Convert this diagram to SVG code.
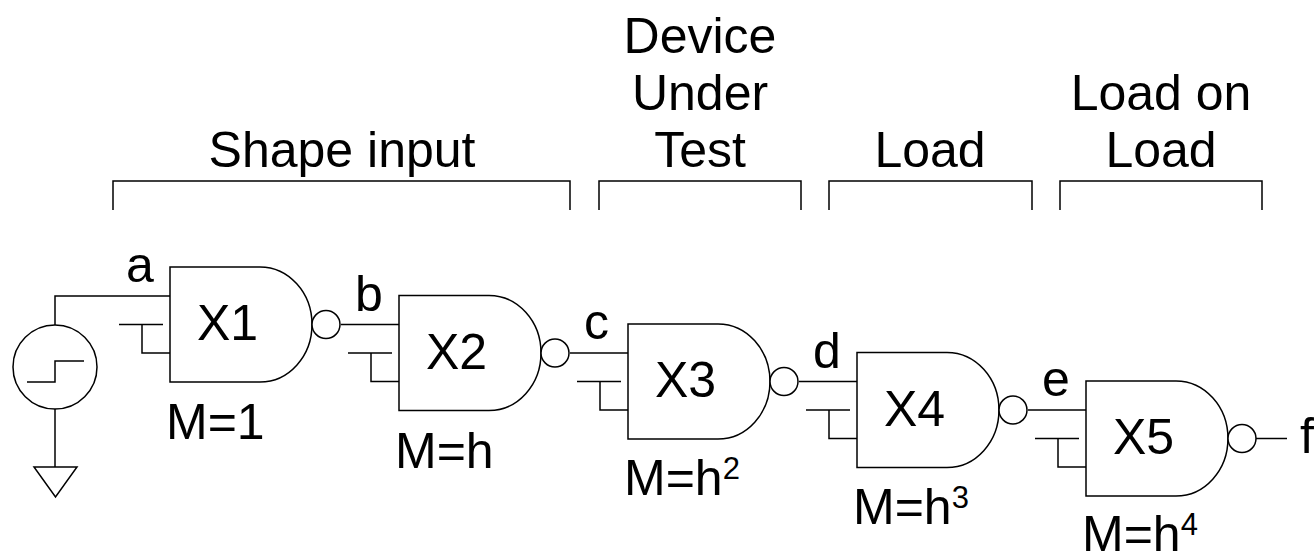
<svg xmlns="http://www.w3.org/2000/svg" width="1314" height="557" viewBox="0 0 1314 557">
<style>
.ln{fill:none;stroke:#000;stroke-width:1.5}
.sh{fill:#fff;stroke:#000;stroke-width:1.5}
text{font-family:"Liberation Sans",Arial,Helvetica,sans-serif;font-size:50px;fill:#000}
.mid{text-anchor:middle}
.sup{font-size:31px}
</style>
<rect width="1314" height="557" fill="#fff"/>
<g id="brackets">
<path class="ln" d="M113 210V181H570V210"/>
<path class="ln" d="M599 210V181H801V210"/>
<path class="ln" d="M829 210V181H1032V210"/>
<path class="ln" d="M1060 210V181H1262V210"/>
<text class="mid" x="342" y="167">Shape input</text>
<text class="mid" x="700" y="53">Device</text>
<text class="mid" x="700" y="110">Under</text>
<text class="mid" x="700" y="167">Test</text>
<text class="mid" x="930" y="167">Load</text>
<text class="mid" x="1161" y="110">Load on</text>
<text class="mid" x="1161" y="167">Load</text>
</g>
<g id="connectors">
<path class="ln" d="M55 325V296H170"/>
<path class="ln" d="M341 324.5H399"/>
<path class="ln" d="M570 353H628"/>
<path class="ln" d="M799 381.5H857"/>
<path class="ln" d="M1028 410H1086"/>
<path class="ln" d="M1256 438.5H1287"/>
<path class="ln" d="M55 409V467"/>
<text x="126" y="282">a</text>
<text x="355" y="310.5">b</text>
<text x="584" y="339">c</text>
<text x="813" y="367.5">d</text>
<text x="1042" y="396">e</text>
<text x="1300" y="453">f</text>
</g>
<g id="source">
<circle class="sh" cx="55" cy="367" r="42"/>
<path class="ln" d="M27 382H55V361H84"/>
</g>
<g id="ground">
<path class="ln" d="M34 467H77L55.5 497Z"/>
</g>
<g id="X1">
<path class="sh" d="M170 267H260A52 57.5 0 0 1 260 382H170Z"/>
<circle class="sh" cx="326" cy="324.5" r="14"/>
<path class="ln" d="M119 324.5H163M142 324.5V353H170"/>
<text x="197" y="340">X1</text>
<text x="166" y="439">M=1</text>
</g>
<g id="X2">
<path class="sh" d="M399 295.5H489A52 57.5 0 0 1 489 410.5H399Z"/>
<circle class="sh" cx="555" cy="353" r="14"/>
<path class="ln" d="M348 353H392M371 353V381.5H399"/>
<text x="426" y="368.5">X2</text>
<text x="395" y="467.5">M=h</text>
</g>
<g id="X3">
<path class="sh" d="M628 324H718A52 57.5 0 0 1 718 439H628Z"/>
<circle class="sh" cx="784" cy="381.5" r="14"/>
<path class="ln" d="M577 381.5H621M600 381.5V410H628"/>
<text x="655" y="397">X3</text>
<text x="624" y="495">M=h<tspan class="sup" dy="-16">2</tspan></text>
</g>
<g id="X4">
<path class="sh" d="M857 352.5H947A52 57.5 0 0 1 947 467.5H857Z"/>
<circle class="sh" cx="1013" cy="410" r="14"/>
<path class="ln" d="M806 410H850M829 410V438.5H857"/>
<text x="884" y="425.5">X4</text>
<text x="853" y="524">M=h<tspan class="sup" dy="-16">3</tspan></text>
</g>
<g id="X5">
<path class="sh" d="M1086 381H1176A52 57.5 0 0 1 1176 496H1086Z"/>
<circle class="sh" cx="1242" cy="438.5" r="14"/>
<path class="ln" d="M1035 438.5H1079M1058 438.5V467H1086"/>
<text x="1113" y="454">X5</text>
<text x="1082" y="551">M=h<tspan class="sup" dy="-16">4</tspan></text>
</g>
</svg>
